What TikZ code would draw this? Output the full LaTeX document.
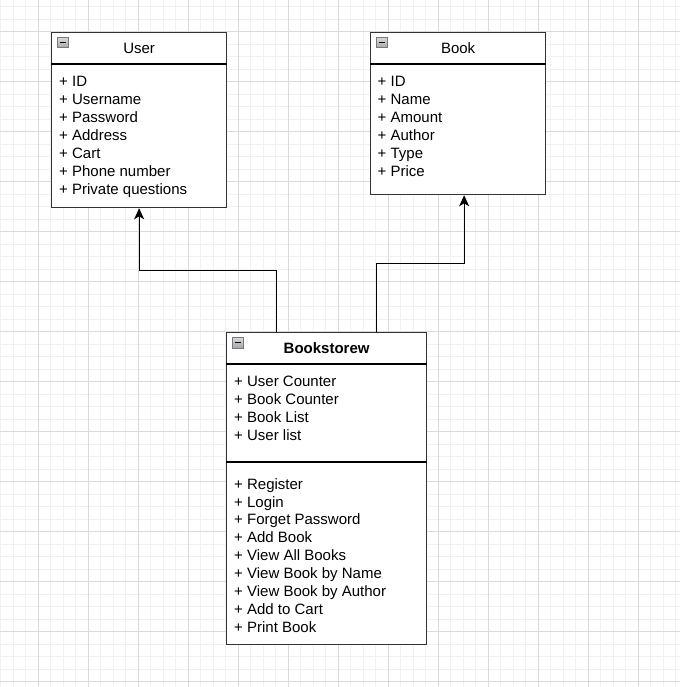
\documentclass[tikz,border=0pt]{standalone}
\usepackage{fontspec}
\setmainfont{Liberation Sans}
\usetikzlibrary{arrows.meta,calc}
\definecolor{gridmajor}{RGB}{218,218,218}
\definecolor{gridminor}{RGB}{241,241,241}
\definecolor{boxline}{RGB}{51,51,51}
\definecolor{iconline}{RGB}{120,120,130}
\begin{document}
\begin{tikzpicture}[x=1pt,y=-1pt,
  classbox/.style={draw=boxline, line width=1.3pt, fill=white, rectangle,
    inner sep=0pt, anchor=north west},
  rule/.style={draw=black, line width=1.2pt},
  member/.style={anchor=base west, inner sep=0pt, font=\fontsize{15}{18}\selectfont},
  title/.style={inner sep=0pt, font=\fontsize{15}{18}\selectfont},
  conn/.style={draw=black, line width=1pt,
    -{Stealth[length=11pt,width=10pt,inset=3pt]}},
  foldicon/.style={rectangle, anchor=north west, inner sep=0pt,
    minimum size=10.5pt, draw=iconline, line width=0.8pt,
    top color=gray!30, bottom color=gray!70,
    path picture={\draw[black, line width=1.4pt]
      ($(path picture bounding box.west)+(2.3,0)$) --
      ($(path picture bounding box.east)+(-2.3,0)$);}}
]
\useasboundingbox (0,0) rectangle (680,687);
\fill[white] (0,0) rectangle (680,687);

% background grid
\foreach \x in {0.8,13.3,...,680} \draw[gridminor, line width=1pt] (\x,0) -- (\x,687);
\foreach \y in {6.7,19.2,...,687} \draw[gridminor, line width=1pt] (0,\y) -- (680,\y);
\foreach \x in {38.3,88.3,...,680} \draw[gridmajor, line width=1pt] (\x,0) -- (\x,687);
\foreach \y in {31.7,81.7,...,687} \draw[gridmajor, line width=1pt] (0,\y) -- (680,\y);

% User class
\node[classbox, minimum width=175pt, minimum height=175pt] (user) at (51,32) {};
\draw[rule] ($(user.north west)+(0,32)$) -- ($(user.north east)+(0,32)$);
\node[foldicon] (user-icon) at ($(user.north west)+(6,5)$) {};
\node[title] (user-title) at ($(user.north)+(0,16)$) {User};
\foreach \t [count=\i from 0] in {ID,Username,Password,Address,Cart,Phone number,Private questions}
  \node[member] (user-m\i) at ($(user.north west)+(8,54.7+18*\i)$) {+ \t};

% Book class
\node[classbox, minimum width=175pt, minimum height=162pt] (book) at (370,32) {};
\draw[rule] ($(book.north west)+(0,32)$) -- ($(book.north east)+(0,32)$);
\node[foldicon] (book-icon) at ($(book.north west)+(6,5)$) {};
\node[title] (book-title) at ($(book.north)+(0,16)$) {Book};
\foreach \t [count=\i from 0] in {ID,Name,Amount,Author,Type,Price}
  \node[member] (book-m\i) at ($(book.north west)+(7.5,54.7+18*\i)$) {+ \t};

% Bookstorew class
\node[classbox, minimum width=200pt, minimum height=312pt] (store) at (226,332) {};
\draw[rule] ($(store.north west)+(0,32)$) -- ($(store.north east)+(0,32)$);
\draw[rule] ($(store.north west)+(0,130)$) -- ($(store.north east)+(0,130)$);
\node[foldicon] (store-icon) at ($(store.north west)+(6.3,5)$) {};
\node[title, font=\fontsize{15}{18}\selectfont\bfseries] (store-title) at ($(store.north)+(0,16)$) {Bookstorew};
\foreach \t [count=\i from 0] in {User Counter,Book Counter,Book List,User list}
  \node[member] (store-a\i) at ($(store.north west)+(8,54.7+18*\i)$) {+ \t};
\foreach \t [count=\i from 0] in {Register,Login,Forget Password,Add Book,View All Books,View Book by Name,View Book by Author,Add to Cart,Print Book}
  \node[member] (store-o\i) at ($(store.north west)+(8,157.2+17.85*\i)$) {+ \t};

% associations
\coordinate (book-in) at ($(book.south)+(6,0)$);
\draw[conn] ($(store.north west)+(50,0)$) -- ++(0,-62) -| (user.south);
\draw[conn] ($(store.north west)+(150,0)$) -- ++(0,-69) -| (book-in);
\end{tikzpicture}
\end{document}
